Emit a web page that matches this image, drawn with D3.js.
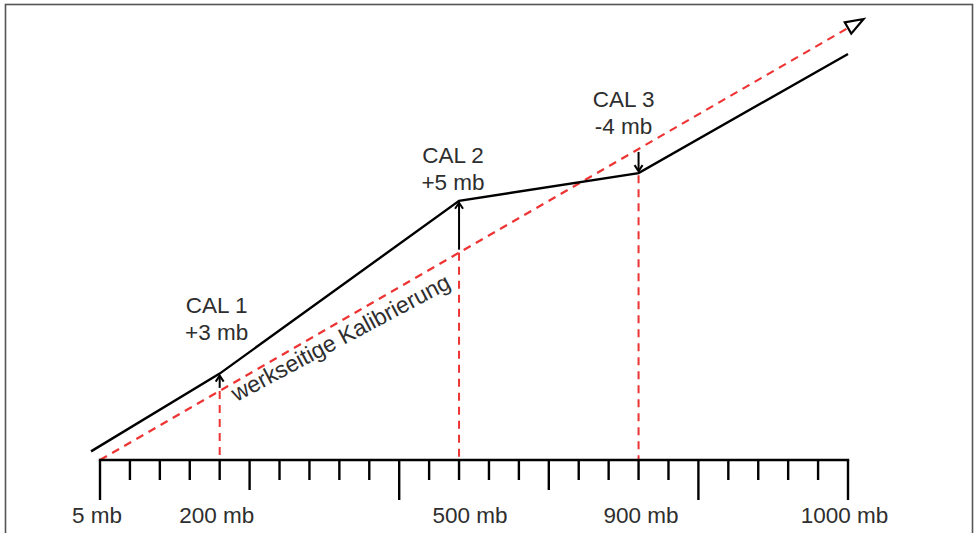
<!DOCTYPE html>
<html>
<head>
<meta charset="utf-8">
<script src="https://cdn.jsdelivr.net/npm/d3@7"></script>
<style>
  html, body { margin: 0; padding: 0; background: #fff; }
  svg { display: block; }
  text { font-family: "Liberation Sans", Arial, sans-serif; fill: #2e2e2e; }
</style>
</head>
<body>
<div id="chart"></div>
<script>
// scale: 25 tick steps, labels sit on some of them
var tickSteps = 25;
var majorTicks = [0, 10, 20, 25];
var mediumTicks = [5, 15];
var axisLabels = ["5 mb", "200 mb", "500 mb", "900 mb", "1000 mb"];
var axisLabelTicks = [0, 4, 12, 18, 25];

// factory calibration (dashed, y = x) and calibrated sensor curve
var factoryX = [0, 25];
var factoryY = [0, 25];
var sensorX = [-0.3, 4, 12, 18, 25];
var sensorY = [0.5, 5, 15, 16.6, 23.5];

// calibration points
var calNames = ["CAL 1", "CAL 2", "CAL 3"];
var calOffsets = ["+3 mb", "+5 mb", "-4 mb"];
var calTicks = [4, 12, 18];
var calSensor = [5, 15, 16.6];

var width = 978, height = 533;
var red = "#ee3333";
var fontSize = 22.5;

var svg = d3.select('#chart')
  .append('svg')
    .attr('width', width)
    .attr('height', height);

var x = d3.scaleLinear().domain([0, tickSteps]).range([100, 848]);
var y = d3.scaleLinear().domain([0, tickSteps]).range([460, 28]);

// frame
svg.append('rect')
  .attr('x', 5.5).attr('y', 4.5)
  .attr('width', 967).attr('height', 600)
  .attr('fill', 'none')
  .attr('stroke', '#555')
  .attr('stroke-width', 1.6);

// red vertical guides from the lower line down to the axis
svg.selectAll('line.guide')
  .data(calTicks)
  .enter()
    .append('line')
      .classed('guide', true)
      .attr('x1', function (d) { return x(d); })
      .attr('x2', function (d) { return x(d); })
      .attr('y1', function (d, i) { return Math.max(y(d), y(calSensor[i])) + (calSensor[i] < d ? 2 : 0); })
      .attr('y2', y(0))
      .attr('stroke', red)
      .attr('stroke-width', 2)
      .attr('stroke-dasharray', '8,6');

// factory line
var line = d3.line()
  .x(function (d) { return x(d[0]); })
  .y(function (d) { return y(d[1]); });

svg.append('path')
  .datum(d3.zip(factoryX, factoryY))
  .attr('d', line)
  .attr('fill', 'none')
  .attr('stroke', red)
  .attr('stroke-width', 2.2)
  .attr('stroke-dasharray', '8,6');

// open arrow head at end of the factory line
var ang = Math.atan2(y(25) - y(0), x(25) - x(0));
var ex = x(25), ey = y(25);
var ux = Math.cos(ang), uy = Math.sin(ang);
var tip = [ex + 18 * ux, ey + 18 * uy];
var b1 = [ex - 6.5 * uy, ey + 6.5 * ux];
var b2 = [ex + 6.5 * uy, ey - 6.5 * ux];
svg.append('polygon')
  .attr('points', [tip, b1, b2].map(function (p) { return p.join(','); }).join(' '))
  .attr('fill', '#fff')
  .attr('stroke', '#000')
  .attr('stroke-width', 2.2)
  .attr('stroke-linejoin', 'miter');

// sensor curve
svg.append('path')
  .datum(d3.zip(sensorX, sensorY))
  .attr('d', line)
  .attr('fill', 'none')
  .attr('stroke', '#000')
  .attr('stroke-width', 2.4);

// calibration arrows: from factory line to sensor line
calTicks.forEach(function (t, i) {
  var cx = x(t);
  var from = y(t), to = y(calSensor[i]);
  var dir = to < from ? -1 : 1;
  var y0 = from + dir * 3, y1 = to - dir * 2;
  svg.append('line')
    .attr('x1', cx).attr('x2', cx)
    .attr('y1', y0).attr('y2', y1)
    .attr('stroke', '#000')
    .attr('stroke-width', 2);
  svg.append('path')
    .attr('d', 'M' + (cx - 4) + ',' + (y1 - dir * 6) + 'L' + cx + ',' + y1 + 'L' + (cx + 4) + ',' + (y1 - dir * 6))
    .attr('fill', 'none')
    .attr('stroke', '#000')
    .attr('stroke-width', 2);
});

// calibration labels
var calLabelDx = [-3, -6, -15];
var calLabelY = [313, 163, 107];
calTicks.forEach(function (t, i) {
  var g = svg.append('text')
    .attr('text-anchor', 'middle')
    .attr('font-size', fontSize)
    .attr('x', x(t) + calLabelDx[i])
    .attr('y', calLabelY[i]);
  g.append('tspan')
    .attr('x', x(t) + calLabelDx[i])
    .text(calNames[i]);
  g.append('tspan')
    .attr('x', x(t) + calLabelDx[i])
    .attr('dy', 26.5)
    .text(calOffsets[i]);
});

// rotated label under the factory line
var at = 4.26, off = 18;
var tx = x(at) - off * Math.sin(ang);
var ty = y(at) + off * Math.cos(ang);
svg.append('text')
  .attr('font-size', 23)
  .attr('transform', 'translate(' + tx + ',' + ty + ') rotate(' + (ang * 180 / Math.PI + 2) + ')')
  .text('werkseitige Kalibrierung');

// axis
var axisG = svg.append('g');
axisG.append('line')
  .attr('x1', x(0)).attr('x2', x(tickSteps))
  .attr('y1', y(0)).attr('y2', y(0))
  .attr('stroke', '#000')
  .attr('stroke-width', 2.4)
  .attr('stroke-linecap', 'square');

axisG.selectAll('line.tick')
  .data(d3.range(tickSteps + 1))
  .enter()
    .append('line')
      .classed('tick', true)
      .attr('x1', function (d) { return x(d); })
      .attr('x2', function (d) { return x(d); })
      .attr('y1', y(0))
      .attr('y2', function (d) {
        if (majorTicks.indexOf(d) >= 0) return y(0) + 40;
        if (mediumTicks.indexOf(d) >= 0) return y(0) + 30;
        return y(0) + 20;
      })
      .attr('stroke', '#000')
      .attr('stroke-width', 2.4);

var axisLabelDx = [-3, -3, 11, 2.5, -3.5];
axisG.selectAll('text.lbl')
  .data(axisLabels)
  .enter()
    .append('text')
      .classed('lbl', true)
      .attr('text-anchor', 'middle')
      .attr('font-size', fontSize)
      .attr('x', function (d, i) { return x(axisLabelTicks[i]) + axisLabelDx[i]; })
      .attr('y', 523)
      .text(function (d) { return d; });
</script>
</body>
</html>
